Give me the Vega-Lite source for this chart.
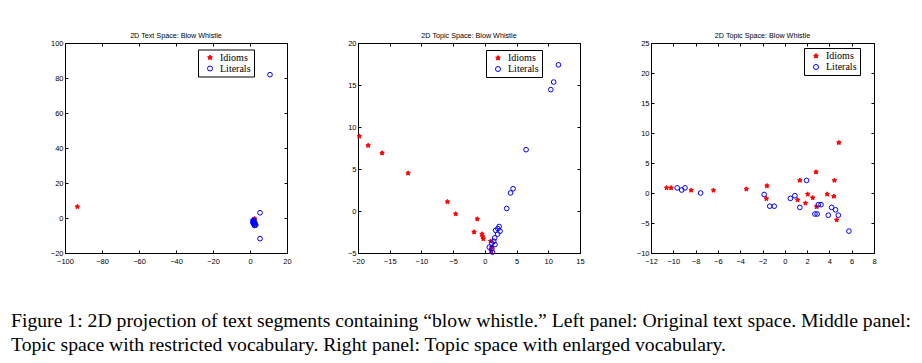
{
  "$schema": "https://vega.github.io/schema/vega-lite/v6.json",
  "background": "white",
  "padding": {"left": 11, "top": 31, "right": 5, "bottom": 5},
  "autosize": {"type": "pad"},
  "config": {
    "view": {"stroke": "black", "strokeWidth": 1},
    "axis": {
      "grid": false, "title": null, "domainColor": "black", "domainWidth": 1,
      "tickColor": "black", "tickSize": -3, "labelPadding": 5, "minExtent": 0,
      "labelFont": "Liberation Sans", "labelFontSize": 7.5, "labelColor": "black",
      "labelFlush": false, "labelOverlap": false
    },
    "axisBottom": {"labelPadding": 7},
    "legend": {
      "orient": "none", "title": null, "strokeColor": "black", "fillColor": "white",
      "padding": 3, "rowPadding": 1, "symbolOffset": 4, "labelOffset": 5,
      "labelFont": "Liberation Serif", "labelFontSize": 10, "labelColor": "black",
      "symbolSize": 25, "symbolStrokeWidth": 1
    },
    "point": {"size": 22, "strokeWidth": 1, "opacity": 1}
  },
  "title": {
    "text": [
      "Figure 1: 2D projection of text segments containing “blow whistle.” Left panel: Original text space. Middle panel:",
      "Topic space with restricted vocabulary. Right panel: Topic space with enlarged vocabulary."
    ],
    "orient": "bottom", "anchor": "start", "frame": "group", "dx": -54,
    "offset": 46, "baseline": "top",
    "font": "Liberation Serif", "fontSize": 19.7, "fontWeight": "normal", "color": "black", "lineHeight": 24
  },
  "datasets": {
    "left": [
      {"x": -93.3, "y": 6.5, "cls": "Idioms"},
      {"x": 2.5, "y": -0.4, "cls": "Idioms"},
      {"x": 2.2, "y": -1.5, "cls": "Idioms"},
      {"x": 10.8, "y": 81.9, "cls": "Literals"},
      {"x": 5.4, "y": 3.0, "cls": "Literals"},
      {"x": 5.4, "y": -11.8, "cls": "Literals"},
      {"x": 1.6, "y": -1.5, "cls": "Literals"},
      {"x": 2.0, "y": -2.0, "cls": "Literals"},
      {"x": 2.5, "y": -2.5, "cls": "Literals"},
      {"x": 1.8, "y": -3.0, "cls": "Literals"},
      {"x": 2.2, "y": -3.5, "cls": "Literals"},
      {"x": 3.1, "y": -4.0, "cls": "Literals"},
      {"x": 2.6, "y": -3.2, "cls": "Literals"},
      {"x": 1.6, "y": -2.4, "cls": "Literals"},
      {"x": 2.9, "y": -3.8, "cls": "Literals"},
      {"x": 2.1, "y": -1.2, "cls": "Literals"},
      {"x": 2.4, "y": -4.3, "cls": "Literals"},
      {"x": 1.9, "y": -2.8, "cls": "Literals"}
    ],
    "middle": [
      {"x": -19.8, "y": 8.9, "cls": "Idioms"},
      {"x": -18.4, "y": 7.8, "cls": "Idioms"},
      {"x": -16.2, "y": 6.9, "cls": "Idioms"},
      {"x": -12.1, "y": 4.5, "cls": "Idioms"},
      {"x": -5.9, "y": 1.1, "cls": "Idioms"},
      {"x": -4.6, "y": -0.35, "cls": "Idioms"},
      {"x": -1.2, "y": -0.95, "cls": "Idioms"},
      {"x": -1.7, "y": -2.5, "cls": "Idioms"},
      {"x": -0.45, "y": -2.75, "cls": "Idioms"},
      {"x": -0.35, "y": -3.05, "cls": "Idioms"},
      {"x": -0.25, "y": -3.3, "cls": "Idioms"},
      {"x": 0.9, "y": -3.6, "cls": "Idioms"},
      {"x": 1.1, "y": -4.3, "cls": "Idioms"},
      {"x": 1.0, "y": -4.8, "cls": "Idioms"},
      {"x": 11.6, "y": 17.4, "cls": "Literals"},
      {"x": 10.85, "y": 15.35, "cls": "Literals"},
      {"x": 10.4, "y": 14.45, "cls": "Literals"},
      {"x": 6.5, "y": 7.3, "cls": "Literals"},
      {"x": 4.45, "y": 2.65, "cls": "Literals"},
      {"x": 4.05, "y": 2.15, "cls": "Literals"},
      {"x": 3.45, "y": 0.3, "cls": "Literals"},
      {"x": 2.25, "y": -1.85, "cls": "Literals"},
      {"x": 2.05, "y": -2.1, "cls": "Literals"},
      {"x": 1.7, "y": -2.3, "cls": "Literals"},
      {"x": 2.4, "y": -2.4, "cls": "Literals"},
      {"x": 2.0, "y": -2.75, "cls": "Literals"},
      {"x": 1.55, "y": -3.2, "cls": "Literals"},
      {"x": 1.4, "y": -3.6, "cls": "Literals"},
      {"x": 1.1, "y": -3.85, "cls": "Literals"},
      {"x": 1.6, "y": -4.0, "cls": "Literals"},
      {"x": 0.7, "y": -4.3, "cls": "Literals"},
      {"x": 1.1, "y": -4.5, "cls": "Literals"},
      {"x": 1.2, "y": -4.9, "cls": "Literals"}
    ],
    "right": [
      {"x": -10.6, "y": 0.85, "cls": "Idioms"},
      {"x": -10.2, "y": 0.85, "cls": "Idioms"},
      {"x": -8.4, "y": 0.45, "cls": "Idioms"},
      {"x": -6.4, "y": 0.45, "cls": "Idioms"},
      {"x": -3.45, "y": 0.65, "cls": "Idioms"},
      {"x": -1.6, "y": 1.2, "cls": "Idioms"},
      {"x": -1.65, "y": -0.95, "cls": "Idioms"},
      {"x": 1.35, "y": 2.1, "cls": "Idioms"},
      {"x": 2.8, "y": 3.5, "cls": "Idioms"},
      {"x": 4.45, "y": 2.1, "cls": "Idioms"},
      {"x": 4.85, "y": 8.4, "cls": "Idioms"},
      {"x": 1.15, "y": -1.15, "cls": "Idioms"},
      {"x": 2.05, "y": -0.2, "cls": "Idioms"},
      {"x": 2.5, "y": -0.8, "cls": "Idioms"},
      {"x": 1.85, "y": -1.7, "cls": "Idioms"},
      {"x": 3.8, "y": -0.2, "cls": "Idioms"},
      {"x": 4.4, "y": -0.55, "cls": "Idioms"},
      {"x": 2.85, "y": -2.3, "cls": "Idioms"},
      {"x": 4.65, "y": -4.5, "cls": "Idioms"},
      {"x": -9.65, "y": 0.85, "cls": "Literals"},
      {"x": -9.25, "y": 0.5, "cls": "Literals"},
      {"x": -8.95, "y": 0.85, "cls": "Literals"},
      {"x": -7.55, "y": 0.0, "cls": "Literals"},
      {"x": -1.85, "y": -0.25, "cls": "Literals"},
      {"x": -1.35, "y": -2.2, "cls": "Literals"},
      {"x": -0.95, "y": -2.2, "cls": "Literals"},
      {"x": 0.5, "y": -0.9, "cls": "Literals"},
      {"x": 0.9, "y": -0.45, "cls": "Literals"},
      {"x": 1.35, "y": -2.4, "cls": "Literals"},
      {"x": 1.95, "y": 2.1, "cls": "Literals"},
      {"x": 2.7, "y": -3.5, "cls": "Literals"},
      {"x": 2.9, "y": -3.5, "cls": "Literals"},
      {"x": 3.0, "y": -1.95, "cls": "Literals"},
      {"x": 3.25, "y": -1.95, "cls": "Literals"},
      {"x": 3.9, "y": -3.7, "cls": "Literals"},
      {"x": 4.2, "y": -2.4, "cls": "Literals"},
      {"x": 4.55, "y": -2.8, "cls": "Literals"},
      {"x": 4.8, "y": -3.7, "cls": "Literals"},
      {"x": 5.75, "y": -6.35, "cls": "Literals"}
    ]
  },
  "spacing": 71,
  "bounds": "flush",
  "resolve": {"scale": {"fill": "independent", "stroke": "independent", "shape": "independent"}, "legend": {"fill": "independent", "stroke": "independent", "shape": "independent"}},
  "hconcat": [
    {
      "width": 222, "height": 210,
      "data": {"name": "left"},
      "title": {"text": "2D Text Space: Blow Whistle", "font": "Liberation Sans", "fontSize": 7.2, "fontWeight": "normal", "color": "black", "offset": -6.5, "baseline": "alphabetic"},
      "layer": [
        {
          "mark": {"type": "point"},
          "encoding": {
            "x": {"field": "x", "type": "quantitative", "scale": {"domain": [-100, 20], "nice": false, "zero": false}, "axis": {"values": [-100, -80, -60, -40, -20, 0, 20]}},
            "y": {"field": "y", "type": "quantitative", "scale": {"domain": [-20, 100], "nice": false, "zero": false}, "axis": {"values": [-20, 0, 20, 40, 60, 80, 100]}},
            "fill": {"field": "cls", "type": "nominal", "scale": {"domain": ["Idioms", "Literals"], "range": ["#ff0000", "transparent"]}, "legend": {"legendX": 133, "legendY": 6.5}},
            "stroke": {"field": "cls", "type": "nominal", "scale": {"domain": ["Idioms", "Literals"], "range": ["#ff0000", "#0000ff"]}, "legend": {"legendX": 133, "legendY": 6.5}},
            "shape": {"field": "cls", "type": "nominal", "scale": {"domain": ["Idioms", "Literals"], "range": ["M0,-1L0.29,-0.4L0.95,-0.31L0.48,0.15L0.59,0.81L0,0.5L-0.59,0.81L-0.48,0.15L-0.95,-0.31L-0.29,-0.4Z", "circle"]}, "legend": {"legendX": 133, "legendY": 6.5}}
          }
        },
        {
          "mark": {"type": "point", "opacity": 0},
          "encoding": {
            "x": {"field": "x", "type": "quantitative", "scale": {"domain": [-100, 20], "nice": false, "zero": false}, "axis": {"orient": "top", "labels": false, "values": [-100, -80, -60, -40, -20, 0, 20]}},
            "y": {"field": "y", "type": "quantitative", "scale": {"domain": [-20, 100], "nice": false, "zero": false}, "axis": {"orient": "right", "labels": false, "values": [-20, 0, 20, 40, 60, 80, 100]}}
          }
        }
      ],
      "resolve": {"axis": {"x": "independent", "y": "independent"}}
    },
    {
      "width": 222, "height": 210,
      "data": {"name": "middle"},
      "title": {"text": "2D Topic Space: Blow Whistle", "font": "Liberation Sans", "fontSize": 7.2, "fontWeight": "normal", "color": "black", "offset": -6.5, "baseline": "alphabetic"},
      "layer": [
        {
          "mark": {"type": "point"},
          "encoding": {
            "x": {"field": "x", "type": "quantitative", "scale": {"domain": [-20, 15], "nice": false, "zero": false}, "axis": {"values": [-20, -15, -10, -5, 0, 5, 10, 15]}},
            "y": {"field": "y", "type": "quantitative", "scale": {"domain": [-5, 20], "nice": false, "zero": false}, "axis": {"values": [-5, 0, 5, 10, 15, 20]}},
            "fill": {"field": "cls", "type": "nominal", "scale": {"domain": ["Idioms", "Literals"], "range": ["#ff0000", "transparent"]}, "legend": {"legendX": 128, "legendY": 7}},
            "stroke": {"field": "cls", "type": "nominal", "scale": {"domain": ["Idioms", "Literals"], "range": ["#ff0000", "#0000ff"]}, "legend": {"legendX": 128, "legendY": 7}},
            "shape": {"field": "cls", "type": "nominal", "scale": {"domain": ["Idioms", "Literals"], "range": ["M0,-1L0.29,-0.4L0.95,-0.31L0.48,0.15L0.59,0.81L0,0.5L-0.59,0.81L-0.48,0.15L-0.95,-0.31L-0.29,-0.4Z", "circle"]}, "legend": {"legendX": 128, "legendY": 7}}
          }
        },
        {
          "mark": {"type": "point", "opacity": 0},
          "encoding": {
            "x": {"field": "x", "type": "quantitative", "scale": {"domain": [-20, 15], "nice": false, "zero": false}, "axis": {"orient": "top", "labels": false, "values": [-20, -15, -10, -5, 0, 5, 10, 15]}},
            "y": {"field": "y", "type": "quantitative", "scale": {"domain": [-5, 20], "nice": false, "zero": false}, "axis": {"orient": "right", "labels": false, "values": [-5, 0, 5, 10, 15, 20]}}
          }
        }
      ],
      "resolve": {"axis": {"x": "independent", "y": "independent"}}
    },
    {
      "width": 223, "height": 210,
      "data": {"name": "right"},
      "title": {"text": "2D Topic Space: Blow Whistle", "font": "Liberation Sans", "fontSize": 7.2, "fontWeight": "normal", "color": "black", "offset": -6.5, "baseline": "alphabetic"},
      "layer": [
        {
          "mark": {"type": "point"},
          "encoding": {
            "x": {"field": "x", "type": "quantitative", "scale": {"domain": [-12, 8], "nice": false, "zero": false}, "axis": {"values": [-12, -10, -8, -6, -4, -2, 0, 2, 4, 6, 8]}},
            "y": {"field": "y", "type": "quantitative", "scale": {"domain": [-10, 25], "nice": false, "zero": false}, "axis": {"values": [-10, -5, 0, 5, 10, 15, 20, 25]}},
            "fill": {"field": "cls", "type": "nominal", "scale": {"domain": ["Idioms", "Literals"], "range": ["#ff0000", "transparent"]}, "legend": {"legendX": 153, "legendY": 5}},
            "stroke": {"field": "cls", "type": "nominal", "scale": {"domain": ["Idioms", "Literals"], "range": ["#ff0000", "#0000ff"]}, "legend": {"legendX": 153, "legendY": 5}},
            "shape": {"field": "cls", "type": "nominal", "scale": {"domain": ["Idioms", "Literals"], "range": ["M0,-1L0.29,-0.4L0.95,-0.31L0.48,0.15L0.59,0.81L0,0.5L-0.59,0.81L-0.48,0.15L-0.95,-0.31L-0.29,-0.4Z", "circle"]}, "legend": {"legendX": 153, "legendY": 5}}
          }
        },
        {
          "mark": {"type": "point", "opacity": 0},
          "encoding": {
            "x": {"field": "x", "type": "quantitative", "scale": {"domain": [-12, 8], "nice": false, "zero": false}, "axis": {"orient": "top", "labels": false, "values": [-12, -10, -8, -6, -4, -2, 0, 2, 4, 6, 8]}},
            "y": {"field": "y", "type": "quantitative", "scale": {"domain": [-10, 25], "nice": false, "zero": false}, "axis": {"orient": "right", "labels": false, "values": [-10, -5, 0, 5, 10, 15, 20, 25]}}
          }
        }
      ],
      "resolve": {"axis": {"x": "independent", "y": "independent"}}
    }
  ]
}
